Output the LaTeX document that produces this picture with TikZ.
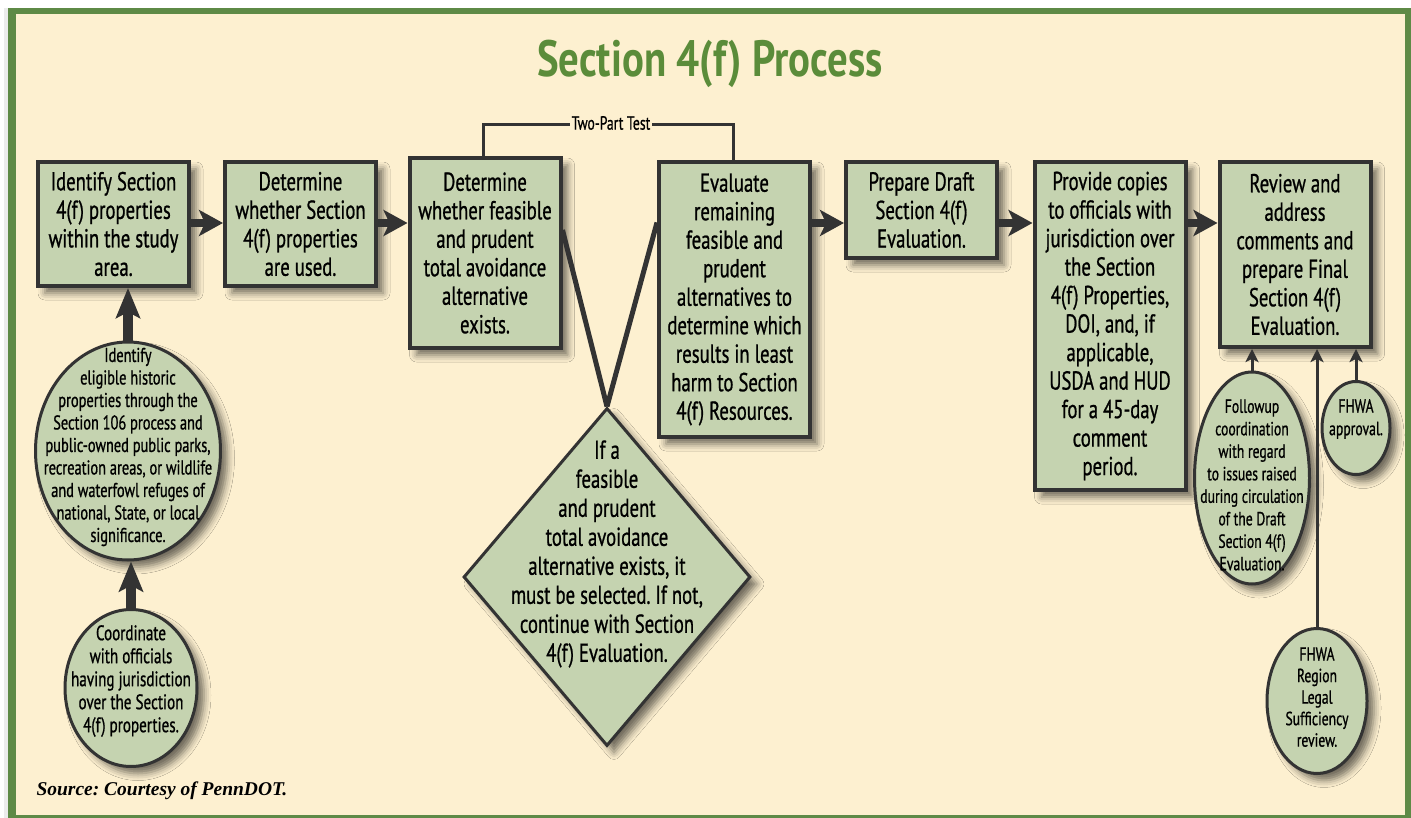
\documentclass[tikz,border=0pt]{standalone}
\usepackage{fontspec}
\setmainfont{PT Sans}
\newfontfamily\boxfont[FakeStretch=0.72,FakeBold=0.8]{PT Sans}
\newfontfamily\titlefont[FakeStretch=0.8]{PT Sans}
\newfontfamily\srcfont{Liberation Serif}
\usetikzlibrary{shapes.geometric,shadows.blur,arrows.meta}
\definecolor{cream}{HTML}{FDF0D0}
\definecolor{sage}{HTML}{C5D3B0}
\definecolor{ink}{HTML}{333333}
\definecolor{frame}{HTML}{5E8A46}
\definecolor{titlegreen}{HTML}{5B8C3A}
\frenchspacing
\begin{document}
\begin{tikzpicture}[x=1pt,y=-1pt,
  myshadow/.style={blur shadow={shadow xshift=7pt,shadow yshift=-7pt,shadow blur radius=7pt,shadow opacity=55}},
  stepbox/.style={draw=ink, line width=4pt, fill=sage, rectangle, minimum width=151pt,
    inner sep=0pt, align=center, font=\boxfont\fontsize{26}{28.5}\selectfont, myshadow},
  ell/.style={draw=ink, line width=3pt, fill=sage, ellipse, inner sep=0pt, myshadow},
  elltext/.style={align=center, inner sep=0pt, font=\boxfont\fontsize{19}{22.5}\selectfont},
  bigarrow/.style={draw=ink, line width=8pt, -{Stealth[length=24pt,width=26pt,inset=6pt]}},
  uparrow/.style={draw=ink, line width=10pt, -{Stealth[length=30pt,width=24pt,inset=6pt]}},
  smallarrow/.style={draw=ink, line width=3pt, -{Stealth[length=13pt,width=13pt,inset=3pt]}},
  vline/.style={draw=ink, line width=5pt},
]
\useasboundingbox (0,0) rectangle (1411,818);
\fill[white] (0,0) rectangle (1411,818);
\fill[gray!15] (4,8) rectangle (8,818);
\fill[frame] (8,8) rectangle (1411,818);
\fill[cream] (16,14) rectangle (1405,815);

% title
\node[font=\titlefont\bfseries\fontsize{51}{60}\selectfont, text=titlegreen] (title) at (710,64) {Section 4(f) Process};

% process boxes
\node[stepbox, minimum height=124pt] (b1) at (113.5,224) {Identify Section\\4(f) properties\\within the study\\area.};
\node[stepbox, minimum height=124pt] (b2) at (300.5,224) {Determine\\whether Section\\4(f) properties\\are used.};
\node[stepbox, minimum height=190pt] (b3) at (485,253) {Determine\\whether feasible\\and prudent\\total avoidance\\alternative\\exists.};
\node[stepbox, minimum height=275pt] (b4) at (734.5,299.5) {Evaluate\\remaining\\feasible and\\prudent\\alternatives to\\determine which\\results in least\\harm to Section\\4(f) Resources.};
\node[stepbox, minimum height=96pt] (b5) at (921.5,210) {Prepare Draft\\Section 4(f)\\Evaluation.};
\node[stepbox, minimum height=328pt] (b6) at (1110,326) {Provide copies\\to officials with\\jurisdiction over\\the Section\\4(f) Properties,\\DOI, and, if\\applicable,\\USDA and HUD\\for a 45-day\\comment\\period.};
\node[stepbox, minimum height=185pt] (b7) at (1295,254.5) {Review and\\address\\comments and\\prepare Final\\Section 4(f)\\Evaluation.};

% diamond
\node[diamond, draw=ink, line width=3pt, fill=sage, minimum width=287pt, minimum height=338pt, inner sep=0pt, myshadow] (dia) at (607,577) {};
\node[align=center, inner sep=0pt, font=\boxfont\fontsize{26}{29}\selectfont] (diat) at (607,554) {If a\\feasible\\and prudent\\total avoidance\\alternative exists, it\\must be selected. If not,\\continue with Section\\4(f) Evaluation.};

% ellipses
\node[ell, minimum width=185pt, minimum height=218pt] (e1) at (128,451) {};
\node[elltext, font=\boxfont\fontsize{20}{22.5}\selectfont] (e1t) at (128,447) {Identify\\eligible historic\\properties through the\\Section 106 process and\\public-owned public parks,\\recreation areas, or wildlife\\and waterfowl refuges of\\national, State, or local\\significance.};
\node[ell, minimum width=132pt, minimum height=157pt] (e2) at (131,688) {};
\node[elltext, font=\boxfont\fontsize{21}{23}\selectfont] (e2t) at (131,681) {Coordinate\\with officials\\having jurisdiction\\over the Section\\4(f) properties.};
\node[ell, minimum width=115pt, minimum height=212pt] (e3) at (1252,478) {};
\node[elltext] (e3t) at (1252,485) {Followup\\coordination\\with regard\\to issues raised\\during circulation\\of the Draft\\Section 4(f)\\Evaluation.};
\node[ell, minimum width=68pt, minimum height=93pt] (e4) at (1356,428) {};
\node[elltext] (e4t) at (1356,419) {FHWA\\approval.};
\node[ell, minimum width=100pt, minimum height=145pt] (e5) at (1317,701) {};
\node[elltext, font=\boxfont\fontsize{19}{21.5}\selectfont] (e5t) at (1317,697) {FHWA\\Region\\Legal\\Sufficiency\\review.};

% horizontal arrows
\coordinate (ay) at (0,223);
\draw[bigarrow] (b1.east |- ay) -- (b2.west |- ay);
\draw[bigarrow] (b2.east |- ay) -- (b3.west |- ay);
\draw[bigarrow] (b4.east |- ay) -- (b5.west |- ay);
\draw[bigarrow] (b5.east |- ay) -- (b6.west |- ay);
\draw[bigarrow] (b6.east |- ay) -- (b7.west |- ay);

% lines to diamond
\draw[vline] ([yshift=23pt]b3.east) -- (dia.north);
\draw[vline] ([yshift=77pt]b4.west) -- (dia.north);

% two-part test bracket
\coordinate (tx1) at (483,125);
\coordinate (tx2) at (733,125);
\draw[draw=ink, line width=3pt] (b3.north -| tx1) -- (tx1) -- (tx2) -- (b4.north -| tx2);
\node[fill=cream, inner sep=1.5pt, font=\boxfont\fontsize{19}{19}\selectfont] (tpt) at (611,123) {Two-Part Test};

% vertical arrows
\draw[uparrow] (e1.north) -- (e1.north |- b1.south);
\draw[uparrow] (e2.north) -- (e2.north |- e1.south);
\draw[smallarrow] (e3.north) -- (e3.north |- b7.south);
\draw[smallarrow] (e5.north) -- (e5.north |- b7.south);
\draw[smallarrow] (e4.north) -- (e4.north |- b7.south);

% source
\node[anchor=west, font=\srcfont\bfseries\itshape\fontsize{19.5}{21}\selectfont] (src) at (33,791) {Source: Courtesy of PennDOT.};
\end{tikzpicture}
\end{document}
